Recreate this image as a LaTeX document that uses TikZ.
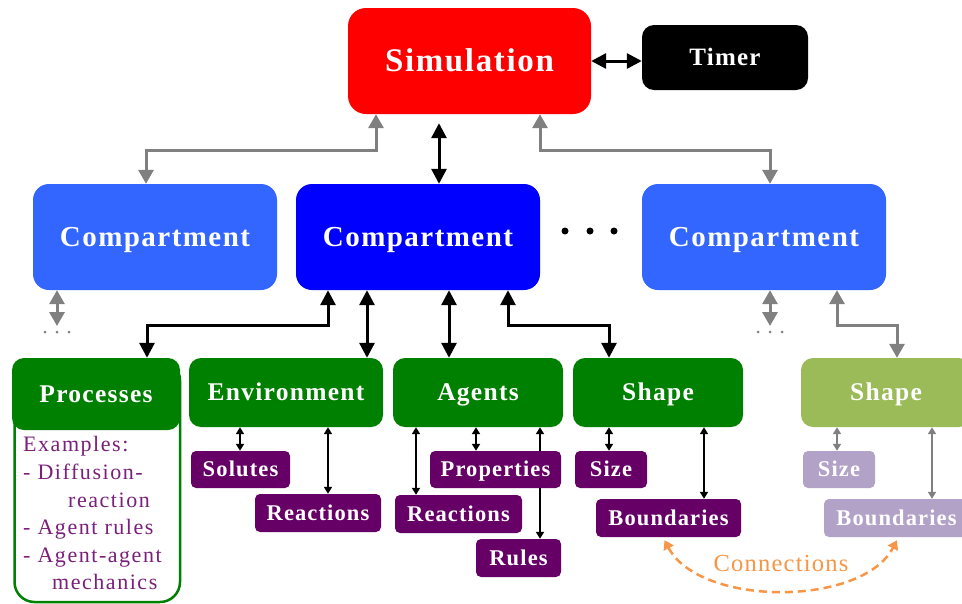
\documentclass[tikz,border=0pt]{standalone}
\usepackage{fontspec}
\setmainfont{Liberation Serif}
\newfontfamily\lsfont[LetterSpace=5]{Liberation Serif}
\newfontfamily\lsfontwide[LetterSpace=7]{Liberation Serif}
\usetikzlibrary{arrows.meta}
\definecolor{simred}{HTML}{FF0000}
\definecolor{compblue}{HTML}{0000FF}
\definecolor{complight}{HTML}{3366FF}
\definecolor{cgreen}{HTML}{008000}
\definecolor{lgreen}{HTML}{9BBB59}
\definecolor{cpurple}{HTML}{660066}
\definecolor{lpurple}{HTML}{B3A2C7}
\definecolor{exviolet}{HTML}{7A1F7A}
\definecolor{corange}{HTML}{F79646}
\definecolor{cgray}{HTML}{808080}
\begin{document}
\begin{tikzpicture}[x=1pt,y=-1pt,
  basebox/.style={inner sep=0pt, text=white, text depth=0pt},
  simbox/.style={basebox, fill=simred, rounded corners=18pt, text height=21.8pt, font=\lsfont\bfseries\fontsize{33}{38}\selectfont},
  timerbox/.style={basebox, fill=black, rounded corners=12pt, text height=16.5pt, font=\lsfont\bfseries\fontsize{25}{28}\selectfont},
  compbox/.style={basebox, rounded corners=16pt, minimum width=244pt, minimum height=106pt, text height=19.1pt, font=\lsfont\bfseries\fontsize{29}{32}\selectfont},
  greenbox/.style={basebox, rounded corners=12pt, minimum height=69pt, text height=16.8pt, font=\lsfont\bfseries\fontsize{25.5}{28}\selectfont},
  purplebox/.style={basebox, rounded corners=5pt, minimum height=37pt, text height=14.9pt, font=\lsfont\bfseries\fontsize{22.5}{25}\selectfont},
  bigarr/.style={line width=3pt, {Triangle[width=15pt,length=15pt]}-{Triangle[width=15pt,length=15pt]}},
  grayarr/.style={line width=3pt, draw=cgray, {Triangle[width=15pt,length=14pt]}-{Triangle[width=15pt,length=14pt]}},
  smallarr/.style={line width=2pt, {Triangle[width=8pt,length=7pt]}-{Triangle[width=8pt,length=7pt]}},
  smallgray/.style={smallarr, draw=cgray}
]
\clip (0,0) rectangle (962,603);
\fill[white] (0,0) rectangle (962,603);

% top level
\node[simbox, minimum width=243pt, minimum height=106pt] (sim) at (469.5,61) {Simulation};
\node[timerbox, minimum width=166pt, minimum height=65pt] (timer) at (725,57.5) {Timer};

% compartments
\node[compbox, fill=complight] (comp1) at (155,237) {Compartment};
\node[compbox, fill=compblue] (comp2) at (418,237) {Compartment};
\node[compbox, fill=complight] (comp3) at (764,237) {Compartment};
\foreach \dx in {565,590,614} \fill (\dx,231) circle (3.5pt);

% processes box
\node[draw=cgreen, line width=2.5pt, fill=white, rounded corners=20pt, inner sep=0pt,
      minimum width=165.5pt, minimum height=241.5pt, anchor=north west] (procbody) at (13.25,359.25) {};
\node[greenbox, fill=cgreen, minimum width=168pt, minimum height=72pt] (proc) at (96,394) {Processes};
\node[anchor=north west, inner sep=0pt, align=left, text=exviolet,
      font=\lsfontwide\fontsize{22}{27.6}\selectfont] (procex) at (23,436.5)
  {Examples:\\- Diffusion-\\\hspace*{45pt}reaction\\- Agent rules\\- Agent-agent\\\hspace*{29pt}mechanics};

% green boxes
\node[greenbox, fill=cgreen, minimum width=194pt] (env) at (286,392.5) {Environment};
\node[greenbox, fill=cgreen, minimum width=170pt] (agents) at (478,392.5) {Agents};
\node[greenbox, fill=cgreen, minimum width=170pt] (shape) at (658,392.5) {Shape};
\node[greenbox, fill=lgreen, minimum width=170pt] (shape2) at (886,392.5) {Shape};

% purple boxes
\node[purplebox, fill=cpurple, minimum width=99pt] (solutes) at (240.5,469.5) {Solutes};
\node[purplebox, fill=cpurple, minimum width=126pt, minimum height=38pt] (reactE) at (318,513) {Reactions};
\node[purplebox, fill=cpurple, minimum width=127pt, minimum height=38pt] (reactA) at (458.5,514) {Reactions};
\node[purplebox, fill=cpurple, minimum width=85pt, minimum height=38pt] (rules) at (518.5,558) {Rules};
% rules link runs behind the Properties box
\draw[smallarr] ([xshift=62pt]agents.south) -- ([xshift=21.5pt]rules.north);
\node[purplebox, fill=cpurple, minimum width=131pt] (props) at (495.5,469.5) {Properties};
\node[purplebox, fill=cpurple, minimum width=72pt] (size) at (611,469.5) {Size};
\node[purplebox, fill=cpurple, minimum width=145pt, minimum height=38pt] (bound) at (668.5,518) {Boundaries};
\node[purplebox, fill=lpurple, minimum width=72pt] (size2) at (839,469.5) {Size};
\node[purplebox, fill=lpurple, minimum width=145pt, minimum height=38pt] (bound2) at (896.5,518) {Boundaries};

% simulation links
\draw[bigarr] (sim.east) -- (sim.east -| timer.west);
\draw[bigarr] ([xshift=-30.5pt,yshift=-9pt]sim.south) -- ([xshift=21pt]comp2.north);
\draw[grayarr] ([xshift=-93.5pt]sim.south) -- ++(0,36) -| ([xshift=-9pt]comp1.north);
\draw[grayarr] ([xshift=70.5pt]sim.south) -- ++(0,36) -| ([xshift=6pt]comp3.north);

% compartment 1 / 3 continuation
\coordinate (c1end) at (57,326);
\coordinate (c3end) at (770,326);
\draw[grayarr] ([xshift=-98pt]comp1.south) -- (c1end);
\draw[grayarr] ([xshift=6pt]comp3.south) -- (c3end);
\foreach \dx in {45,57,69,758,770,782} \fill[cgray] (\dx,332) circle (1.5pt);
\draw[grayarr] ([xshift=73pt]comp3.south) -- ++(0,35) -| ([xshift=11pt]shape2.north);

% compartment 2 children
\draw[bigarr] ([xshift=-90pt]comp2.south) -- ++(0,35) -| ([xshift=51pt]proc.north);
\draw[bigarr] ([xshift=-51pt]comp2.south) -- ([xshift=81pt]env.north);
\draw[bigarr] ([xshift=31pt]comp2.south) -- ([xshift=-29pt]agents.north);
\draw[bigarr] ([xshift=90pt]comp2.south) -- ++(0,35) -| ([xshift=-49pt]shape.north);

% sub links
\draw[smallarr] ([xshift=-46pt]env.south) -- ([xshift=-0.5pt]solutes.north);
\draw[smallarr] ([xshift=42pt]env.south) -- ([xshift=10pt]reactE.north);
\draw[smallarr] ([xshift=-62pt]agents.south) -- ([xshift=-42.5pt]reactA.north);
\draw[smallarr] ([xshift=-2pt]agents.south) -- ([xshift=-19.5pt]props.north);
\draw[smallarr] ([xshift=-49pt]shape.south) -- ([xshift=-2pt]size.north);
\draw[smallarr] ([xshift=46pt]shape.south) -- ([xshift=35.5pt]bound.north);
\draw[smallgray] ([xshift=-49pt]shape2.south) -- ([xshift=-2pt]size2.north);
\draw[smallgray] ([xshift=46pt]shape2.south) -- ([xshift=35.5pt]bound2.north);

% connections
\draw[corange, line width=2.5pt, dash pattern=on 8pt off 5pt,
      {Triangle[width=11pt,length=9pt]}-{Triangle[width=11pt,length=9pt]}]
  ([xshift=-4pt,yshift=-3pt]bound.south) .. controls (700,607) and (862,607) .. ([xshift=0.5pt,yshift=-3pt]bound2.south);
\node[text=corange, inner sep=0pt, font=\lsfont\fontsize{24.5}{28}\selectfont] (conn) at (781,564) {Connections};
\end{tikzpicture}
\end{document}
